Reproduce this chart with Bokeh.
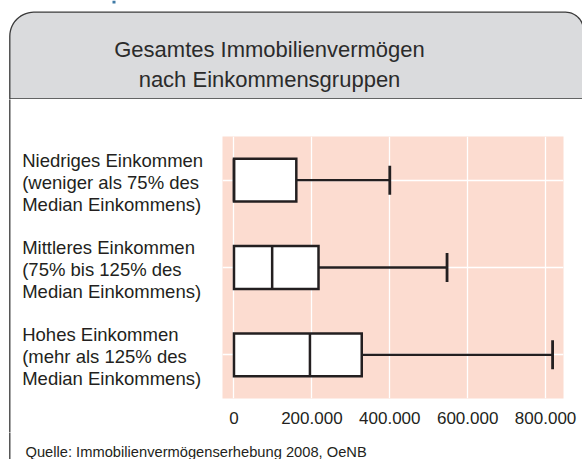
import math
from bokeh.plotting import figure
from bokeh.layouts import column, row
from bokeh.models import Range1d, FactorRange, FixedTicker, ColumnDataSource
from bokeh.core.properties import value
from bokeh.transform import dodge
from bokeh.embed import file_html
from bokeh.resources import INLINE

# ---------------- data ----------------
title_lines = ["Gesamtes Immobilienvermögen", "nach Einkommensgruppen"]
categories = [
    "Niedriges Einkommen\n(weniger als 75% des\nMedian Einkommens)",
    "Mittleres Einkommen\n(75% bis 125% des\nMedian Einkommens)",
    "Hohes Einkommen\n(mehr als 125% des\nMedian Einkommens)",
]
q1 = [0, 0, 0]
median = [0, 98000, 195000]
q3 = [160000, 217000, 328000]
upper = [400000, 547000, 818000]
tick_values = [0, 200000, 400000, 600000, 800000]
tick_labels = ["0", "200.000", "400.000", "600.000", "800.000"]
source_note = "Quelle: Immobilienvermögenserhebung 2008, OeNB"

# ---------------- style / layout ----------------
FONT = "Liberation Sans"
INK = "#231f20"
PINK = "#fcdcd0"
HEAD = "#dadbdd"
EDGE = "#3a3a3a"
W = 582
HEAD_H = 99          # header strip height
MID_H = 333          # chart strip height
FOOT_H = 27          # footer strip height
LEFT_W = 222         # width of the category-label column
FRAME_TOP, FRAME_BOTTOM = 37, 34
CARD_X = 9.3


def no_align(f):
    if "frame_align" in f.properties():
        f.frame_align = False
    return f


def blank(width, height, y0, y1):
    f = figure(width=width, height=height, output_backend="svg",
               toolbar_location=None, x_range=Range1d(0, width),
               y_range=Range1d(y1, y0), min_border=0)
    f.min_border_left = f.min_border_right = 0
    f.min_border_top = f.min_border_bottom = 0
    f.axis.visible = False
    f.grid.visible = False
    f.outline_line_color = None
    f.background_fill_color = "white"
    f.border_fill_color = "white"
    return no_align(f)


# ---------------- header ----------------
hdr = blank(W, HEAD_H, 0, HEAD_H)


def arc(cx, cy, r, a0, a1, n=14):
    return [(cx + r * math.cos(math.radians(a0 + (a1 - a0) * i / n)),
             cy - r * math.sin(math.radians(a0 + (a1 - a0) * i / n)))
            for i in range(n + 1)]


cl, ct, cr, hb = CARD_X, 11.7, 583.0, 98.3
rl, rr = 24, 18
pts = [(cl, hb)] + arc(cl + rl, ct + rl, rl, 180, 90) + \
      arc(cr - rr, ct + rr, rr, 90, 0) + [(cr, hb)]
hdr.patch([q[0] for q in pts], [q[1] for q in pts], fill_color=HEAD,
          line_color=EDGE, line_width=1.3)
# tiny fragment of the cropped heading above the card
hdr.quad(left=[112], right=[115], top=[0], bottom=[3], fill_color="#3f7aa6",
         line_color=None)
hdr.text(x=[269, 269], y=[48.5, 79], text=title_lines, text_align="center",
         text_baseline="alphabetic", text_font=value(FONT),
         text_font_size="22px", text_color="#2b2b2b")

# ---------------- category labels ----------------
lab = blank(LEFT_W, MID_H, HEAD_H, HEAD_H + MID_H)
lab.segment(x0=[CARD_X], x1=[CARD_X], y0=[HEAD_H - 1], y1=[HEAD_H + MID_H + 1],
            line_color=EDGE, line_width=1.3)
step = (MID_H - FRAME_TOP - FRAME_BOTTOM) / len(categories)
lx, ly, lt = [], [], []
for i, cat in enumerate(categories):
    cy = HEAD_H + FRAME_TOP + (i + 0.5) * step
    for j, line in enumerate(cat.split("\n")):
        lx.append(21.7)
        ly.append(cy - 20 + 22 * j)
        lt.append(line)
lab.text(x=lx, y=ly, text=lt, text_align="left", text_baseline="alphabetic",
         text_font=value(FONT), text_font_size="18.5px", text_color=INK)

# ---------------- box plot ----------------
p = figure(width=W - LEFT_W, height=MID_H, output_backend="svg",
           toolbar_location=None,
           x_range=Range1d(-29500, 846000),
           y_range=FactorRange(factors=categories[::-1]),
           min_border_left=0, min_border_right=19,
           min_border_top=FRAME_TOP, min_border_bottom=FRAME_BOTTOM)
no_align(p)
p.background_fill_color = PINK
p.border_fill_color = "white"
p.outline_line_color = None
p.yaxis.visible = False

p.xaxis.ticker = FixedTicker(ticks=tick_values)
p.xaxis.major_label_overrides = {v: s for v, s in zip(tick_values, tick_labels)}
p.xaxis.axis_line_color = None
p.xaxis.major_tick_line_color = None
p.xaxis.minor_tick_line_color = None
p.xaxis.major_label_standoff = 7
p.xaxis.major_label_text_font = FONT
p.xaxis.major_label_text_font_size = "17px"
p.xaxis.major_label_text_color = INK

p.xgrid.grid_line_color = "white"
p.xgrid.grid_line_width = 1.3
p.ygrid.grid_line_color = "white"
p.ygrid.grid_line_width = 1.3

src = ColumnDataSource(dict(cat=categories, q1=q1, med=median, q3=q3, up=upper))

p.segment(x0="q3", x1="up", y0="cat", y1="cat", source=src,
          line_color=INK, line_width=2.3)
p.segment(x0="up", x1="up",
          y0=dodge("cat", -0.166, range=p.y_range),
          y1=dodge("cat", 0.166, range=p.y_range),
          source=src, line_color=INK, line_width=2.8)
p.hbar(y="cat", left="q1", right="q3", height=0.49, source=src,
       fill_color="white", line_color=INK, line_width=2.5, line_join="miter")
p.segment(x0="med", x1="med",
          y0=dodge("cat", -0.245, range=p.y_range),
          y1=dodge("cat", 0.245, range=p.y_range),
          source=src, line_color=INK, line_width=2.5)

# ---------------- footer ----------------
y_foot = HEAD_H + MID_H
ftr = blank(W, FOOT_H, y_foot, y_foot + FOOT_H)
ftr.segment(x0=[CARD_X], x1=[CARD_X], y0=[y_foot - 1], y1=[y_foot + FOOT_H + 1],
            line_color=EDGE, line_width=1.3)
ftr.text(x=[25], y=[y_foot + 19.5], text=[source_note], text_align="left",
         text_baseline="alphabetic", text_font=value(FONT),
         text_font_size="14.7px", text_color=INK)

layout = column(hdr, row(column(lab), column(p)), ftr)
open("out.html", "w").write(file_html(layout, INLINE))
